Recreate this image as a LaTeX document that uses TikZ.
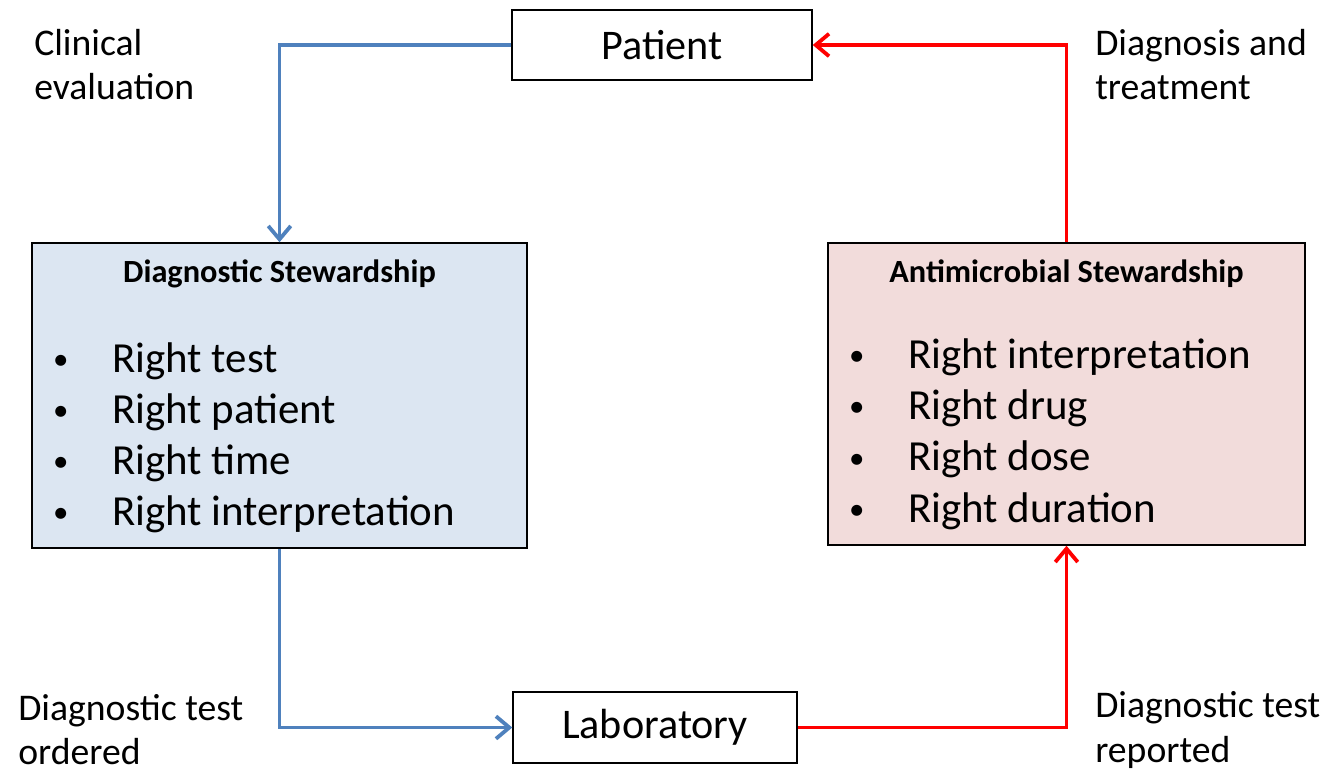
\documentclass[tikz,border=0pt]{standalone}
\usepackage{fontspec}
\setmainfont{Carlito}
\usetikzlibrary{arrows.meta}
\definecolor{diagblue}{HTML}{4F81BD}
\definecolor{diagfill}{HTML}{DCE6F2}
\definecolor{abxfill}{HTML}{F2DCDB}
\definecolor{abxred}{HTML}{FF0000}
\tikzset{
  box/.style={draw=black, line width=1pt, inner sep=0pt},
  bigtxt/.style={font=\fontsize{30}{36}\selectfont},
  lbl/.style={anchor=west, align=left, inner sep=0pt, font=\fontsize{26.8}{31.3}\selectfont},
  head/.style={inner sep=0pt, font=\fontsize{23}{27}\selectfont\bfseries},
  item/.style={anchor=west, inner sep=0pt, font=\fontsize{30.5}{36}\selectfont},
  conn/.style={line width=2.7pt, -{Straight Barb[length=9.5pt,width=16pt]}},
}
\newcommand{\bul}{\llap{\makebox[42pt][l]{\raisebox{2pt}{\fontsize{22}{22}\selectfont•}}}}
\begin{document}
\begin{tikzpicture}[x=0.025cm, y=-0.025cm]
    \useasboundingbox (0,0) rectangle (1327,771);
    % main boxes
    \node[box, bigtxt, minimum width=7.5cm, minimum height=1.75cm] (patient) at (662,45) {Patient};
    \node[box, bigtxt, minimum width=7.1cm, minimum height=1.775cm] (lab) at (655,727.5) {Laboratory};
    \node[box, fill=diagfill, minimum width=12.375cm, minimum height=7.625cm] (ds) at (279.5,395.5) {};
    \node[box, fill=abxfill, minimum width=11.925cm, minimum height=7.55cm] (as) at (1066.5,394) {};
    % box contents
    \node[head] (dshead) at (279.5,274) {Diagnostic Stewardship};
    \node[head] (ashead) at (1066.5,274) {Antimicrobial Stewardship};
    \foreach \t [count=\i] in {Right test, Right patient, Right time, Right interpretation}
        \node[item] (dsitem\i) at (112,{361+51*(\i-1)}) {\bul\t};
    \foreach \t [count=\i] in {Right interpretation, Right drug, Right dose, Right duration}
        \node[item] (asitem\i) at (908,{357+51.3*(\i-1)}) {\bul\t};
    % connectors
    \draw[conn, diagblue] (patient.west) -| (ds.north);
    \draw[conn, diagblue] (ds.south) |- (lab.west);
    \draw[conn, abxred] (lab.east) -| (as.south);
    \draw[conn, abxred] (as.north) |- (patient.east);
    % step labels
    \node[lbl] (clin) at (34,65) {Clinical\\evaluation};
    \node[lbl] (dxtx) at (1095,65) {Diagnosis and\\treatment};
    \node[lbl] (order) at (18,730) {Diagnostic test\\ordered};
    \node[lbl] (report) at (1095,730) {Diagnostic test\\reported};
\end{tikzpicture}
\end{document}
